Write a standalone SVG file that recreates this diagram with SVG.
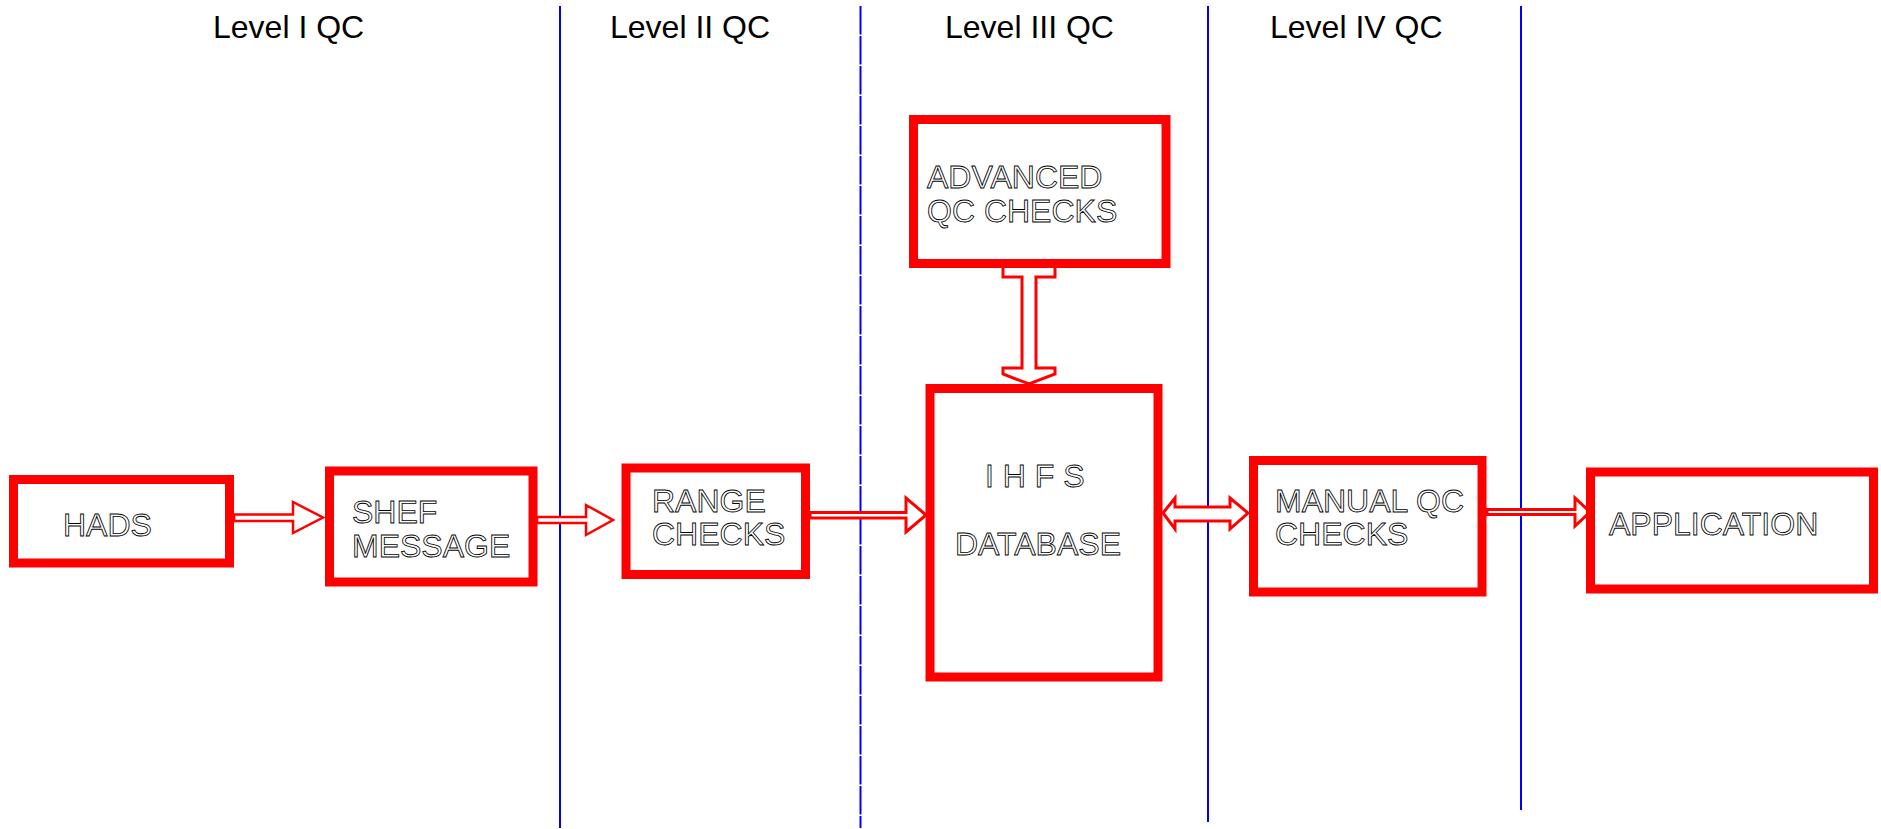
<svg xmlns="http://www.w3.org/2000/svg" width="1881" height="829" viewBox="0 0 1881 829">
<style>
.box{fill:#fff;stroke:#ff0000;stroke-width:9}
.lbl{font-family:"Liberation Sans",Arial,sans-serif;font-size:32px;fill:#fff;stroke:#000;stroke-width:0.85}
.ttl{font-family:"Liberation Sans",Arial,sans-serif;font-size:32px;fill:#000}
.arr{fill:#fff;stroke:#ff0000;stroke-width:2.5;stroke-linejoin:miter}
.lane{stroke:#0000ff;stroke-width:2;fill:none}
</style>
<rect width="1881" height="829" fill="#fff"/>
<g id="titles">
<text class="ttl" x="213" y="37.5">Level I QC</text>
<text class="ttl" x="610" y="37.5">Level II QC</text>
<text class="ttl" x="945" y="37.5">Level III QC</text>
<text class="ttl" x="1270" y="37.5">Level IV QC</text>
</g>
<g id="lanes">
<line class="lane" x1="560" y1="6" x2="560" y2="828"/>
<line class="lane" x1="860.5" y1="6" x2="860.5" y2="828" stroke-dasharray="28.5 1.5"/>
<line class="lane" x1="1208" y1="6" x2="1208" y2="822"/>
<line class="lane" x1="1521" y1="6" x2="1521" y2="810"/>
</g>
<g id="connectors">
<polygon class="arr" points="234,514.5 293,514.5 293,502 323,517.5 293,533 293,521 234,521"/>
<polygon class="arr" points="537,517 586,517 586,505 613,520 586,535 586,523 537,523"/>
<polygon class="arr" style="stroke-width:3" points="810,512.5 906,512.5 906,498 926,515 906,532 906,518 810,518"/>
<polygon class="arr" style="stroke-width:3" points="1029,252 1055,262 1055,277 1036,277 1036,368 1055,368 1055,374 1029,384 1003,374 1003,368 1022,368 1022,277 1003,277 1003,262"/>
<polygon class="arr" style="stroke-width:3" points="1163,513 1175,498 1175,507 1230,507 1230,498 1248,513 1230,529 1230,521 1175,521 1175,529"/>
<polygon class="arr" style="stroke-width:3" points="1487,509.5 1575,509.5 1575,498 1590,512 1575,526 1575,514.5 1487,514.5"/>
</g>
<g id="hads">
<rect class="box" x="13.5" y="479.5" width="216" height="83.5"/>
<text class="lbl" x="63" y="536">HADS</text>
</g>
<g id="shef">
<rect class="box" x="329.5" y="471" width="203.5" height="111"/>
<text class="lbl" x="352" y="523">SHEF</text>
<text class="lbl" x="352" y="557">MESSAGE</text>
</g>
<g id="range">
<rect class="box" x="626" y="468" width="179.5" height="106.5"/>
<text class="lbl" x="652" y="512">RANGE</text>
<text class="lbl" x="652" y="545">CHECKS</text>
</g>
<g id="advanced">
<rect class="box" x="913.5" y="119.5" width="252.5" height="144"/>
<text class="lbl" x="927" y="188">ADVANCED</text>
<text class="lbl" x="927" y="222">QC CHECKS</text>
</g>
<g id="ihfs">
<rect class="box" x="930" y="388.5" width="228" height="288.5"/>
<text class="lbl" x="985" y="487">I H F S</text>
<text class="lbl" x="955" y="555">DATABASE</text>
</g>
<g id="manual">
<rect class="box" x="1253.5" y="460.5" width="228.5" height="131.5"/>
<text class="lbl" x="1275" y="512">MANUAL QC</text>
<text class="lbl" x="1275" y="545">CHECKS</text>
</g>
<g id="application">
<rect class="box" x="1590.5" y="472" width="283" height="117"/>
<text class="lbl" x="1609" y="535">APPLICATION</text>
</g>
</svg>
